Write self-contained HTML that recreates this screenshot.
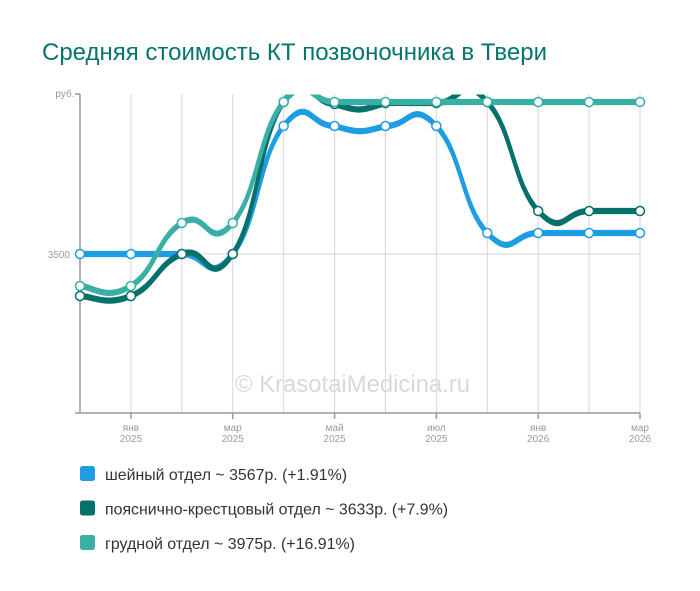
<!DOCTYPE html>
<html>
<head>
<meta charset="utf-8">
<style>
html,body{margin:0;padding:0;background:#fff;}
body{width:700px;height:591px;overflow:hidden;}
svg{display:block;}
text{font-family:"Liberation Sans","DejaVu Sans",sans-serif;}
</style>
</head>
<body>
<svg width="700" height="591" viewBox="0 0 700 591" xmlns="http://www.w3.org/2000/svg">
  <defs>
    <clipPath id="plot"><rect x="78" y="94.5" width="570" height="320"/></clipPath>
  </defs>
  <rect width="700" height="591" fill="#fff"/>

  <!-- title -->
  <text x="42" y="60" font-size="24" fill="#06766c" textLength="505" lengthAdjust="spacingAndGlyphs">Средняя стоимость КТ позвоночника в Твери</text>

  <!-- watermark -->
  <text x="235" y="392" font-size="24" fill="#d9d9d9" textLength="235" lengthAdjust="spacingAndGlyphs">© KrasotaiMedicina.ru</text>

  <!-- grid -->
  <g stroke="#d6d6d6" stroke-width="1">
    <line x1="130.91" y1="94" x2="130.91" y2="413"/>
    <line x1="181.82" y1="94" x2="181.82" y2="413"/>
    <line x1="232.73" y1="94" x2="232.73" y2="413"/>
    <line x1="283.64" y1="94" x2="283.64" y2="413"/>
    <line x1="334.55" y1="94" x2="334.55" y2="413"/>
    <line x1="385.45" y1="94" x2="385.45" y2="413"/>
    <line x1="436.36" y1="94" x2="436.36" y2="413"/>
    <line x1="487.27" y1="94" x2="487.27" y2="413"/>
    <line x1="538.18" y1="94" x2="538.18" y2="413"/>
    <line x1="589.09" y1="94" x2="589.09" y2="413"/>
    <line x1="640" y1="94" x2="640" y2="413"/>
    <line x1="80" y1="254" x2="640" y2="254"/>
  </g>

  <!-- axes -->
  <g stroke="#9a9a9a" stroke-width="1.5" fill="none">
    <line x1="80" y1="94" x2="80" y2="413.5"/>
    <line x1="75" y1="413" x2="640" y2="413"/>
    <line x1="75" y1="94" x2="80" y2="94"/>
    <line x1="75" y1="254" x2="80" y2="254"/>
    <line x1="130.91" y1="413" x2="130.91" y2="419"/>
    <line x1="232.73" y1="413" x2="232.73" y2="419"/>
    <line x1="334.55" y1="413" x2="334.55" y2="419"/>
    <line x1="436.36" y1="413" x2="436.36" y2="419"/>
    <line x1="538.18" y1="413" x2="538.18" y2="419"/>
    <line x1="640" y1="413" x2="640" y2="419"/>
  </g>

  <!-- y labels -->
  <g font-size="10" fill="#9a9a9a" text-anchor="end">
    <text x="74.5" y="97">руб.</text>
    <text x="70" y="258">3500</text>
  </g>

  <!-- x labels -->
  <g font-size="10" fill="#9a9a9a" text-anchor="middle">
    <text x="130.91" y="431">янв</text><text x="130.91" y="442">2025</text>
    <text x="232.73" y="431">мар</text><text x="232.73" y="442">2025</text>
    <text x="334.55" y="431">май</text><text x="334.55" y="442">2025</text>
    <text x="436.36" y="431">июл</text><text x="436.36" y="442">2025</text>
    <text x="538.18" y="431">янв</text><text x="538.18" y="442">2026</text>
    <text x="640" y="431">мар</text><text x="640" y="442">2026</text>
  </g>

  <!-- series lines -->
  <g clip-path="url(#plot)" fill="none" stroke-linecap="round" stroke-linejoin="round">
    <!-- blue -->
    <g stroke="#1f9de2" stroke-width="3.6">
      <path transform="translate(0,-1.3)" d="M80,254 C92.7,254 105.46,254 130.91,254 C156.36,254 156.37,254 181.82,254 C207.27,254 207.28,286 232.73,254 C258.18,222 258.19,158 283.64,126 C309.09,94 309.1,126 334.55,126 C360,133 360,133 385.45,126 C410.9,126 410.91,99.25 436.36,126 C461.81,152.75 461.82,206.25 487.27,233 C512.72,259.75 512.73,233 538.18,233 C563.63,233 563.64,233 589.09,233 C614.54,233 627.3,233 640,233"/>
      <path transform="translate(0,1.3)" d="M80,254 C92.7,254 105.46,254 130.91,254 C156.36,254 156.37,254 181.82,254 C207.27,254 207.28,286 232.73,254 C258.18,222 258.19,158 283.64,126 C309.09,94 309.1,126 334.55,126 C360,133 360,133 385.45,126 C410.9,126 410.91,99.25 436.36,126 C461.81,152.75 461.82,206.25 487.27,233 C512.72,259.75 512.73,233 538.18,233 C563.63,233 563.64,233 589.09,233 C614.54,233 627.3,233 640,233"/>
    </g>
    <!-- dark teal -->
    <g stroke="#04716a" stroke-width="3.6">
      <path transform="translate(0,-1.3)" d="M80,296 C92.7,296 105.46,306.5 130.91,296 C156.36,285.5 156.37,264.5 181.82,254 C207.27,243.5 207.28,292 232.73,254 C258.18,216 258.19,139.5 283.64,102 C309.09,64.5 309.1,103.75 334.55,104 C360,112 360,111 385.45,103 C410.9,102.75 410.91,103.25 436.36,103 C461.81,102.75 461.82,72 487.27,102 C512.72,129 512.73,183.75 538.18,211 C563.63,238.25 563.64,211 589.09,211 C614.54,211 627.3,211 640,211"/>
      <path transform="translate(0,1.3)" d="M80,296 C92.7,296 105.46,306.5 130.91,296 C156.36,285.5 156.37,264.5 181.82,254 C207.27,243.5 207.28,292 232.73,254 C258.18,216 258.19,139.5 283.64,102 C309.09,64.5 309.1,103.75 334.55,104 C360,112 360,111 385.45,103 C410.9,102.75 410.91,103.25 436.36,103 C461.81,102.75 461.82,72 487.27,102 C512.72,129 512.73,183.75 538.18,211 C563.63,238.25 563.64,211 589.09,211 C614.54,211 627.3,211 640,211"/>
    </g>
    <!-- teal -->
    <g stroke="#3aafa6" stroke-width="3.6">
      <path transform="translate(0,-1.3)" d="M80,286 C92.7,286 105.46,301.75 130.91,286 C156.36,270.25 156.37,238.75 181.82,223 C207.27,207.25 207.28,253.25 232.73,223 C258.18,192.75 258.19,132.25 283.64,102 C309.09,71.75 309.1,102 334.55,102 L640,102"/>
      <path transform="translate(0,1.3)" d="M80,286 C92.7,286 105.46,301.75 130.91,286 C156.36,270.25 156.37,238.75 181.82,223 C207.27,207.25 207.28,253.25 232.73,223 C258.18,192.75 258.19,132.25 283.64,102 C309.09,71.75 309.1,102 334.55,102 L640,102"/>
    </g>
  </g>

  <!-- markers -->
  <g fill="#fff" stroke-width="1.5">
    <g stroke="#1f9de2">
      <circle cx="80" cy="254" r="4.5"/><circle cx="130.91" cy="254" r="4.5"/><circle cx="181.82" cy="254" r="4.5"/><circle cx="232.73" cy="254" r="4.5"/>
      <circle cx="283.64" cy="126" r="4.5"/><circle cx="334.55" cy="126" r="4.5"/><circle cx="385.45" cy="126" r="4.5"/><circle cx="436.36" cy="126" r="4.5"/>
      <circle cx="487.27" cy="233" r="4.5"/><circle cx="538.18" cy="233" r="4.5"/><circle cx="589.09" cy="233" r="4.5"/><circle cx="640" cy="233" r="4.5"/>
    </g>
    <g stroke="#04716a">
      <circle cx="80" cy="296" r="4.5"/><circle cx="130.91" cy="296" r="4.5"/><circle cx="181.82" cy="254" r="4.5"/><circle cx="232.73" cy="254" r="4.5"/>
      <circle cx="283.64" cy="102" r="4.5"/><circle cx="334.55" cy="104" r="4.5"/><circle cx="385.45" cy="103" r="4.5"/><circle cx="436.36" cy="103" r="4.5"/>
      <circle cx="487.27" cy="102" r="4.5"/><circle cx="538.18" cy="211" r="4.5"/><circle cx="589.09" cy="211" r="4.5"/><circle cx="640" cy="211" r="4.5"/>
    </g>
    <g stroke="#3aafa6">
      <circle cx="80" cy="286" r="4.5"/><circle cx="130.91" cy="286" r="4.5"/><circle cx="181.82" cy="223" r="4.5"/><circle cx="232.73" cy="223" r="4.5"/>
      <circle cx="283.64" cy="102" r="4.5"/><circle cx="334.55" cy="102" r="4.5"/><circle cx="385.45" cy="102" r="4.5"/><circle cx="436.36" cy="102" r="4.5"/>
      <circle cx="487.27" cy="102" r="4.5"/><circle cx="538.18" cy="102" r="4.5"/><circle cx="589.09" cy="102" r="4.5"/><circle cx="640" cy="102" r="4.5"/>
    </g>
  </g>

  <!-- legend -->
  <rect x="80" y="466" width="15" height="15" rx="2.5" fill="#1f9de2"/>
  <text x="105" y="480" font-size="16" fill="#333" textLength="242" lengthAdjust="spacingAndGlyphs">шейный отдел ~ 3567р. (+1.91%)</text>
  <rect x="80" y="500.5" width="15" height="15" rx="2.5" fill="#04716a"/>
  <text x="105" y="514.5" font-size="16" fill="#333" textLength="343" lengthAdjust="spacingAndGlyphs">пояснично-крестцовый отдел ~ 3633р. (+7.9%)</text>
  <rect x="80" y="535" width="15" height="15" rx="2.5" fill="#3aafa6"/>
  <text x="105" y="549" font-size="16" fill="#333" textLength="250" lengthAdjust="spacingAndGlyphs">грудной отдел ~ 3975р. (+16.91%)</text>
</svg>
</body>
</html>
